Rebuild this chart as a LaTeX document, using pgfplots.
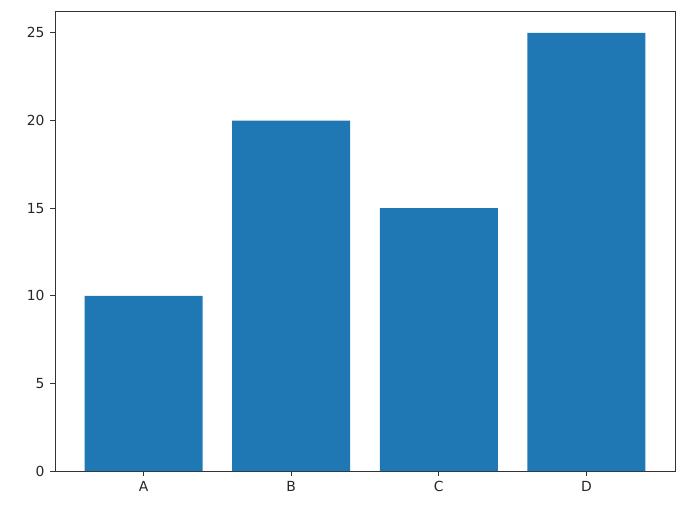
\documentclass[border=0pt]{standalone}
\usepackage{pgfplots}
\pgfplotsset{compat=1.18}
\usepackage{fontspec}
\setmainfont{DejaVu Sans}
\definecolor{mplblue}{HTML}{1F77B4}
\begin{document}
\begin{tikzpicture}
\path (0,0) rectangle (497.52pt,370.08pt);
\begin{axis}[
  at={(39.6pt,30.96pt)}, anchor=south west,
  scale only axis, width=446.4pt, height=331.2pt,
  xmin=-0.6, xmax=3.6, ymin=0, ymax=26.25,
  xtick={0,1,2,3}, xticklabels={A,B,C,D},
  ytick={0,5,10,15,20,25},
  tick align=outside, major tick length=3.5pt,
  xtick pos=bottom, ytick pos=left,
  every tick/.style={black!80, line width=0.7pt},
  axis line style={black!80, line width=0.7pt},
  tick label style={font=\fontsize{10}{12}\selectfont, text=black!85},
  /pgf/number format/assume math mode=true,
  xticklabel style={yshift=-0.5pt},
  yticklabel style={xshift=-0.5pt},
]
\addplot[ybar, bar width=0.8, fill=mplblue, draw=none] coordinates {(0,10) (1,20) (2,15) (3,25)};
\end{axis}
\end{tikzpicture}
\end{document}
